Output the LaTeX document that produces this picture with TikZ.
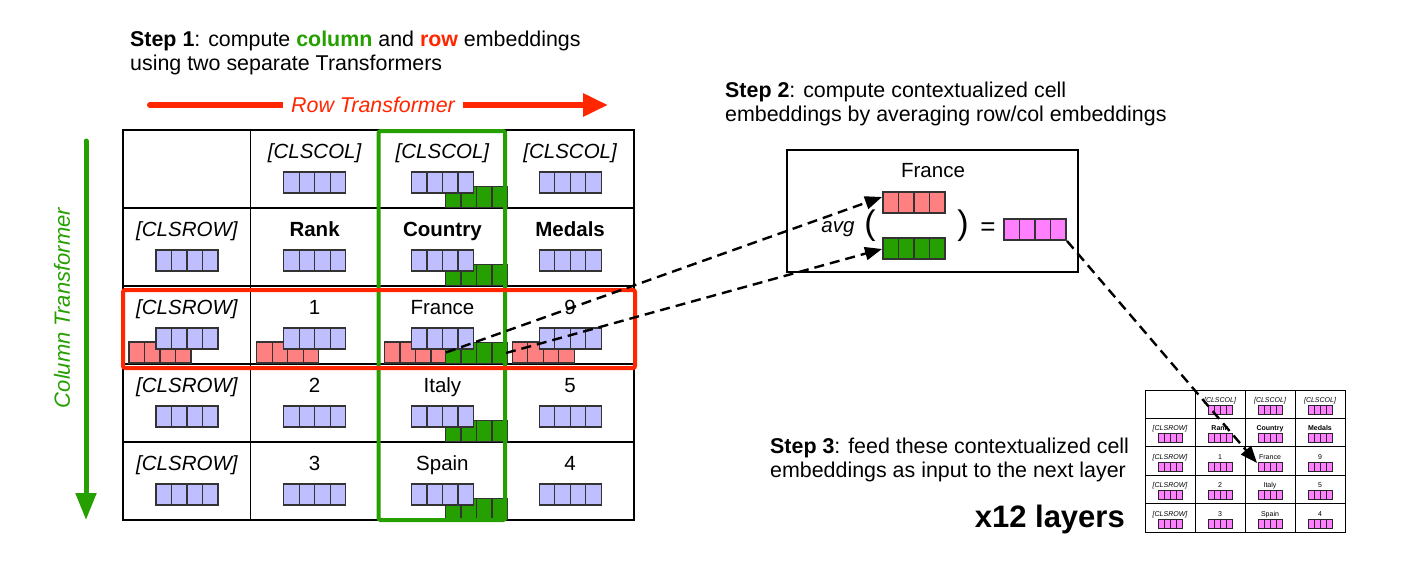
\documentclass[tikz,border=0pt]{standalone}
\usepackage{fontspec}
\setmainfont{Liberation Sans}
\usetikzlibrary{arrows.meta}
\definecolor{tred}{RGB}{255,38,0}
\definecolor{tgreen}{RGB}{38,160,0}
\definecolor{bluefill}{RGB}{191,191,255}
\definecolor{redfill}{RGB}{255,128,128}
\definecolor{pinkfill}{RGB}{255,128,255}
\newcommand\tabfont{\fontsize{20.5}{24}\selectfont}
\newcommand\stepfont{\fontsize{21.4}{24}\selectfont}
\newcommand\minifont{\fontsize{7}{8}\selectfont}
\newcommand\bigemb[3]{\foreach \k in {0,1,2,3}{\draw[embcell,fill=#3] ({#1+\k*15.5},{#2}) rectangle ++(15.5,21);}}
\newcommand\smallemb[2]{\foreach \k in {0,1,2,3}{\draw[minicell] ({#1+\k*6},{#2}) rectangle ++(6,9);}}
\begin{document}
\begin{tikzpicture}[x=1pt,y=-1pt,
  embcell/.style={draw=black!80, line width=1.2pt},
  minicell/.style={draw=black!85, line width=0.9pt, fill=pinkfill},
  tabline/.style={draw=black, line width=1.1pt},
  minitab/.style={draw=black, line width=0.9pt},
  tabtxt/.style={anchor=base, inner sep=0pt, font=\tabfont},
  minitxt/.style={anchor=base, inner sep=0pt, font=\minifont},
  steptxt/.style={anchor=base west, inner sep=0pt, font=\stepfont},
  dasharrow/.style={black, line width=2.4pt, dash pattern=on 10pt off 6pt, -{Triangle[length=17pt,width=13pt]}}]
\fill[white] (0,0) rectangle (1424,565);
\useasboundingbox (0,0) rectangle (1424,565);

% Step texts
\node[steptxt] (s1a) at (130,46) {\textbf{Step 1}: compute \textbf{\textcolor{tgreen}{column}} and \textbf{\textcolor{tred}{row}} embeddings};
\node[steptxt] (s1b) at (130,70) {using two separate Transformers};
\node[steptxt] (s2a) at (725,97) {\textbf{Step 2}: compute contextualized cell};
\node[steptxt] (s2b) at (725,121) {embeddings by averaging row/col embeddings};
\node[steptxt] (s3a) at (770,453) {\textbf{Step 3}: feed these contextualized cell};
\node[steptxt] (s3b) at (770,477) {embeddings as input to the next layer};
\node[anchor=base east, inner sep=0pt, font=\fontsize{31}{34}\selectfont\bfseries] (layers) at (1125,527) {x12 layers};

% Transformer arrows
\draw[tred, line width=6pt, line cap=round, -{Triangle[length=25pt,width=22pt]}] (150,105) -- (608,105);
\node[fill=white, inner xsep=8pt, inner ysep=2pt, text=tred, font=\stepfont\itshape] (rowT) at (373,105) {Row Transformer};
\draw[tgreen, line width=5pt, line cap=round, -{Triangle[length=27pt,width=20pt]}] (86,141) -- (86,520);
\node[rotate=90, inner sep=0pt, text=tgreen, font=\fontsize{22}{24}\selectfont\itshape] (colT) at (62,308) {Column Transformer};

% main table grid
\draw[tabline] (123,130) rectangle (634,520);
\foreach \c in {1,2,3} \draw[tabline] ({123+127.75*\c},130) -- ({123+127.75*\c},520);
\foreach \r in {1,...,4} \draw[tabline] (123,{130+78*\r}) -- (634,{130+78*\r});

% embeddings: red row, green column, then blue on top
\foreach \c in {0,...,3}{\pgfmathsetmacro\rx{128.9+127.75*\c}\bigemb{\rx}{342}{redfill}}
\foreach \r in {0,...,4}{\pgfmathsetmacro\gy{186.5+78*\r}\bigemb{445.4}{\gy}{tgreen}}
\foreach \r in {0,...,4}{\foreach \c in {0,...,3}{\ifnum\r\c=00 \else
  \pgfmathsetmacro\bx{155.9+127.75*\c}\pgfmathsetmacro\by{172+78*\r}\bigemb{\bx}{\by}{bluefill}\fi}}

% main table text
\node[tabtxt] (t01) at (314.6,158) {\itshape [CLSCOL]};
\node[tabtxt] (t02) at (442.4,158) {\itshape [CLSCOL]};
\node[tabtxt] (t03) at (570.1,158) {\itshape [CLSCOL]};
\node[tabtxt] (t10) at (186.9,236) {\itshape [CLSROW]};
\node[tabtxt] (t11) at (314.6,236) {\bfseries Rank};
\node[tabtxt] (t12) at (442.4,236) {\bfseries Country};
\node[tabtxt] (t13) at (570.1,236) {\bfseries Medals};
\node[tabtxt] (t20) at (186.9,314) {\itshape [CLSROW]};
\node[tabtxt] (t21) at (314.6,314) {1};
\node[tabtxt] (t22) at (442.4,314) {France};
\node[tabtxt] (t23) at (570.1,314) {9};
\node[tabtxt] (t30) at (186.9,392) {\itshape [CLSROW]};
\node[tabtxt] (t31) at (314.6,392) {2};
\node[tabtxt] (t32) at (442.4,392) {Italy};
\node[tabtxt] (t33) at (570.1,392) {5};
\node[tabtxt] (t40) at (186.9,470) {\itshape [CLSROW]};
\node[tabtxt] (t41) at (314.6,470) {3};
\node[tabtxt] (t42) at (442.4,470) {Spain};
\node[tabtxt] (t43) at (570.1,470) {4};

% highlight boxes
\draw[tgreen, line width=4pt, rounded corners=2pt] (378.5,131) rectangle (505,520);
\draw[tred, line width=4pt, rounded corners=2pt] (123,290) rectangle (635,368);

% averaging box
\node[draw, line width=1.2pt, minimum width=291pt, minimum height=122pt, inner sep=0pt] (avgbox) at (932.5,211) {};
\node[tabtxt] (avgFrance) at (933,177) {France};
\node[inner sep=0pt, font=\tabfont\itshape] (avgLabel) at (838,229) {avg};
\node[inner sep=0pt, font=\fontsize{34}{36}\selectfont] (lpar) at (870,226) {(};
\node[inner sep=0pt, font=\fontsize{34}{36}\selectfont] (rpar) at (963,226) {)};
\node[inner sep=0pt, font=\fontsize{26}{28}\selectfont] (eq) at (988,229) {=};
\bigemb{883}{192}{redfill}
\bigemb{883}{238}{tgreen}
\bigemb{1004}{219}{pinkfill}

% small table
\draw[minitab] (1145,390) rectangle (1345,532);
\foreach \c in {1,2,3} \draw[minitab] ({1145+50*\c},390) -- ({1145+50*\c},532);
\foreach \r in {1,...,4} \draw[minitab] (1145,{390+28.4*\r}) -- (1345,{390+28.4*\r});
\foreach \r in {0,...,4}{\foreach \c in {0,...,3}{\ifnum\r\c=00 \else
  \pgfmathsetmacro\sx{1158+50*\c}\pgfmathsetmacro\sy{405.5+28.4*\r}\smallemb{\sx}{\sy}\fi}}
\node[minitxt] (m01) at (1220,402.5) {\itshape [CLSCOL]};
\node[minitxt] (m02) at (1270,402.5) {\itshape [CLSCOL]};
\node[minitxt] (m03) at (1320,402.5) {\itshape [CLSCOL]};
\node[minitxt] (m10) at (1170,430.9) {\itshape [CLSROW]};
\node[minitxt] (m11) at (1220,430.9) {\bfseries Rank};
\node[minitxt] (m12) at (1270,430.9) {\bfseries Country};
\node[minitxt] (m13) at (1320,430.9) {\bfseries Medals};
\node[minitxt] (m20) at (1170,459.3) {\itshape [CLSROW]};
\node[minitxt] (m21) at (1220,459.3) {1};
\node[minitxt] (m22) at (1270,459.3) {France};
\node[minitxt] (m23) at (1320,459.3) {9};
\node[minitxt] (m30) at (1170,487.7) {\itshape [CLSROW]};
\node[minitxt] (m31) at (1220,487.7) {2};
\node[minitxt] (m32) at (1270,487.7) {Italy};
\node[minitxt] (m33) at (1320,487.7) {5};
\node[minitxt] (m40) at (1170,516.1) {\itshape [CLSROW]};
\node[minitxt] (m41) at (1220,516.1) {3};
\node[minitxt] (m42) at (1270,516.1) {Spain};
\node[minitxt] (m43) at (1320,516.1) {4};

% connector end points
\coordinate (redEnd) at (446,352.5);
\coordinate (greenEnd) at (506,353);
\coordinate (avgRedIn) at (882,197);
\coordinate (avgGreenIn) at (882,249);
\coordinate (pinkOut) at (1067,241);
\coordinate (smallIn) at (1257,463);
\draw[dasharrow] (redEnd) -- (avgRedIn);
\draw[dasharrow] (greenEnd) -- (avgGreenIn);
\draw[dasharrow] (pinkOut) -- (smallIn);
\end{tikzpicture}
\end{document}
